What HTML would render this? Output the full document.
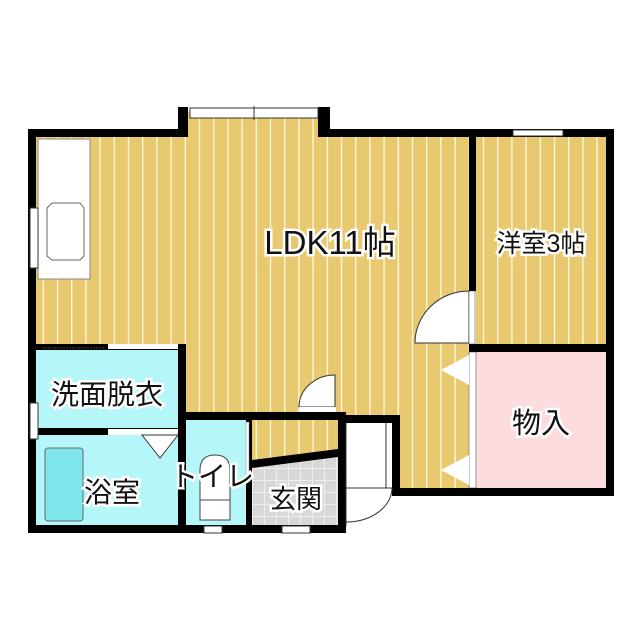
<!DOCTYPE html>
<html><head><meta charset="utf-8"><style>
html,body{margin:0;padding:0;background:#fff;}
svg{display:block}
text{font-family:"Liberation Sans","Noto Sans CJK JP",sans-serif;fill:#111;stroke:#fff;stroke-width:5;paint-order:stroke;}
</style></head><body>
<svg width="640" height="640" viewBox="0 0 640 640" xmlns="http://www.w3.org/2000/svg">
<defs>
<pattern id="fl" x="0" y="0" width="14.2" height="10" patternUnits="userSpaceOnUse">
<rect width="14.2" height="10" fill="#e9c96f"/><rect x="0" width="1.4" height="10" fill="#fff6d8"/>
</pattern>
<pattern id="tl" x="0" y="0" width="12" height="12" patternUnits="userSpaceOnUse">
<rect width="12" height="12" fill="#d8d8d8"/><rect width="12" height="1" fill="#eee"/><rect width="1" height="12" fill="#eee"/>
</pattern>
</defs>
<rect x="36" y="137" width="434" height="210" fill="url(#fl)"/>
<rect x="186" y="112" width="140" height="30" fill="url(#fl)"/>
<rect x="186" y="340" width="284" height="80" fill="url(#fl)"/>
<rect x="392" y="410" width="80" height="80" fill="url(#fl)"/>
<rect x="476" y="137" width="130" height="210" fill="url(#fl)"/>
<rect x="252" y="420" width="88" height="45" fill="url(#fl)"/>
<rect x="38" y="139" width="52" height="140" fill="#fff" stroke="#888" stroke-width="1"/>
<path d="M47 208 L52 203 L80 203 L84 208 L84 256 L80 260 L52 260 L47 256Z" fill="#fff" stroke="#666"/>
<rect x="36" y="348" width="145" height="82" fill="#b5f6f8"/>
<rect x="36" y="434" width="145" height="92" fill="#b5f6f8"/>
<rect x="45" y="448" width="38" height="73" rx="3" fill="#80e6ee" stroke="#666"/>
<rect x="186" y="420" width="60" height="106" fill="#b5f6f8"/>
<path d="M200 470 Q200 455 215 455 Q230 455 230 470 L230 500 L200 500Z" fill="#fff" stroke="#444"/>
<rect x="200" y="500" width="30" height="20" fill="#fff" stroke="#444"/>
<path d="M252 466 L338 455 L338 526 L252 526Z" fill="url(#tl)"/>
<rect x="476" y="352" width="130" height="136" fill="#fddcdf"/>
<g fill="#000">
<rect x="28" y="129" width="158" height="8"/>
<rect x="178" y="107" width="10" height="30"/>
<rect x="318" y="107" width="12" height="30"/>
<rect x="322" y="129" width="292" height="8"/>
<rect x="28" y="129" width="8" height="404"/>
<rect x="606" y="129" width="8" height="367"/>
<rect x="469" y="129" width="7" height="162"/>
<rect x="469" y="344" width="145" height="8"/>
<rect x="392" y="488" width="222" height="8"/>
<rect x="392" y="415" width="8" height="81"/>
<rect x="338" y="415" width="54" height="8"/>
<rect x="338" y="415" width="8" height="118"/>
<rect x="28" y="525" width="318" height="8"/>
<rect x="36" y="344" width="150" height="6"/>
<rect x="178" y="344" width="8" height="189"/>
<rect x="36" y="428" width="150" height="7"/>
<rect x="186" y="412" width="160" height="8"/>
<rect x="246" y="420" width="6" height="113"/>
<path d="M252 460 L338 449 L338 457 L252 468Z"/>
</g>
<rect x="190" y="108" width="128" height="10" fill="#fff" stroke="#333"/>
<line x1="254" y1="106" x2="254" y2="120" stroke="#333"/>
<rect x="513" y="130" width="50" height="6" fill="#fff" stroke="#333"/>
<rect x="30" y="208" width="8" height="60" fill="#fff" stroke="#333"/>
<rect x="30" y="403" width="8" height="36" fill="#fff" stroke="#333"/>
<rect x="108" y="344" width="70" height="5" fill="#fff"/>
<line x1="42" y1="348" x2="105" y2="348" stroke="#444" stroke-dasharray="2,1"/>
<rect x="108" y="429" width="70" height="6" fill="#fff"/>
<path d="M142 435 L178 435 L160 458Z" fill="#fff" stroke="#333"/>
<rect x="204" y="526" width="18" height="7" fill="#fff" stroke="#333"/>
<rect x="282" y="526" width="28" height="7" fill="#fff" stroke="#333"/>
<rect x="246" y="422" width="3" height="60" fill="#fff" stroke="#888" stroke-width=".5"/>
<path d="M469 291 L469 343 L415 343 A54 52 0 0 1 469 291Z" fill="#fff" stroke="#333"/>
<rect x="469" y="291" width="6" height="53" fill="#fff" stroke="#333" stroke-width=".5"/>
<path d="M335 375 L335 407 L299 407 A36 32 0 0 1 335 375Z" fill="#fff" stroke="#333"/>
<rect x="299" y="407" width="37" height="5" fill="#fff"/>
<rect x="469" y="352" width="7" height="136" fill="#fff" stroke="#333" stroke-width=".5"/>
<path d="M469 355 L441 370 L469 385Z" fill="#fff"/>
<path d="M469 455 L441 470 L469 485Z" fill="#fff"/>
<rect x="346" y="423" width="46" height="65" fill="#fff"/>
<path d="M346 488 L392 488 A46 34 0 0 1 346 522Z" fill="#fff" stroke="#333"/>
<line x1="346" y1="423" x2="346" y2="526" stroke="#333"/>
<line x1="386" y1="423" x2="386" y2="488" stroke="#333"/>
<text x="330" y="254" font-size="33" text-anchor="middle">LDK11帖</text>
<text x="541" y="252" font-size="25" text-anchor="middle">洋室3帖</text>
<text x="541" y="433" font-size="29" text-anchor="middle">物入</text>
<text x="107" y="404" font-size="28" text-anchor="middle">洗面脱衣</text>
<text x="112" y="502" font-size="28" text-anchor="middle">浴室</text>
<text x="212" y="486" font-size="28" text-anchor="middle">トイレ</text>
<text x="296" y="508" font-size="26" text-anchor="middle">玄関</text>
</svg>
</body></html>
